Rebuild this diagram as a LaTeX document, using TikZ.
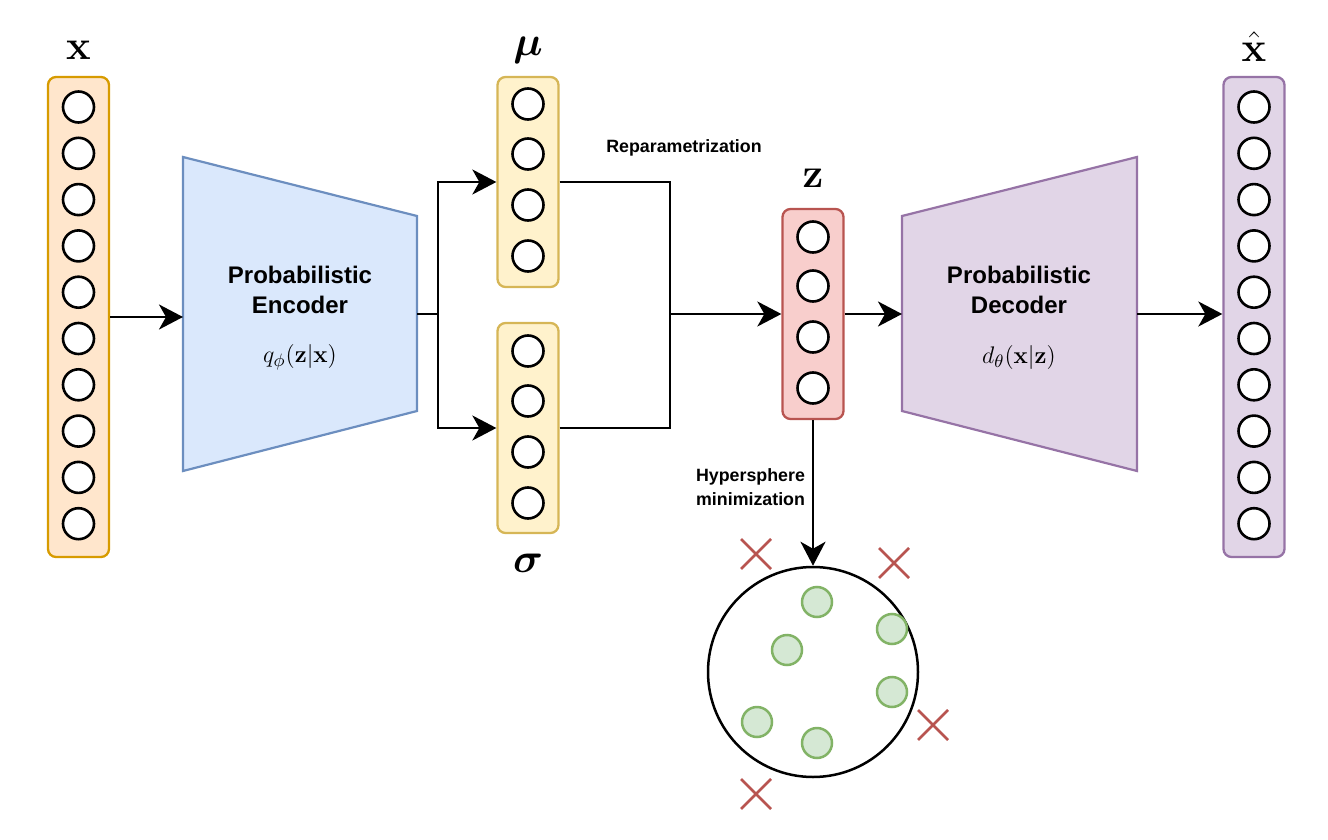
\documentclass[tikz,border=0pt]{standalone}
\usepackage{amsmath,bm}
\usepackage[no-math]{fontspec}
\newfontfamily\labelfont{Liberation Sans}
\usetikzlibrary{positioning,arrows.meta}

\definecolor{inFill}{HTML}{FFE6CC}
\definecolor{inDraw}{HTML}{D79B00}
\definecolor{gaussFill}{HTML}{FFF2CC}
\definecolor{gaussDraw}{HTML}{D6B656}
\definecolor{latFill}{HTML}{F8CECC}
\definecolor{latDraw}{HTML}{B85450}
\definecolor{encFill}{HTML}{DAE8FC}
\definecolor{encDraw}{HTML}{6C8EBF}
\definecolor{decFill}{HTML}{E1D5E7}
\definecolor{decDraw}{HTML}{9673A6}
\definecolor{okFill}{HTML}{D5E8D4}
\definecolor{okDraw}{HTML}{82B366}

\begin{document}
\begin{tikzpicture}[x=0.5pt,y=-0.5pt,
    layer/.style={rectangle, rounded corners=4pt, line width=1.15pt,
      minimum width=30.5pt, inner sep=0pt},
    unit/.style={circle, draw=black, fill=white, line width=1.3pt,
      minimum size=15.5pt, inner sep=0pt},
    flow/.style={-{Stealth[length=12pt,width=12.5pt,inset=3.5pt]}, line width=1.25pt},
    wire/.style={line width=1.25pt},
    vlabel/.style={inner sep=0pt, font=\fontsize{22}{26}\selectfont},
    boxtext/.style={align=center, font=\labelfont\bfseries\fontsize{12}{15}\selectfont},
    mathtext/.style={font=\fontsize{12.6}{15}\selectfont},
    note/.style={font=\labelfont\bfseries\fontsize{8.9}{12}\selectfont},
    inlier/.style={circle, draw=okDraw, fill=okFill, line width=1.25pt,
      minimum size=15pt, inner sep=0pt},
    outlier/.style={draw=latDraw, line width=1.25pt}]

  \useasboundingbox (0,0) rectangle (1328,840);

  % Input layer x
  \node[layer, draw=inDraw, fill=inFill, minimum height=240pt] (xin) at (78.5,317) {};
  \foreach \i in {0,...,9}
    \node[unit] (xin-\i) at (78.5,107+46.3*\i) {};
  \node[vlabel, above=8pt of xin] {$\mathbf{x}$};

  % Probabilistic encoder
  \draw[draw=encDraw, fill=encFill, line width=1.1pt]
    (183,157) -- (417,216) -- (417,411) -- (183,471) -- cycle;
  \coordinate (enc-in) at (183,317);
  \coordinate (enc-out) at (417,314);
  \node[boxtext] (enc) at (300,290) {Probabilistic\\Encoder};
  \node[mathtext] (enc-q) at (300,357) {$q_{\phi}(\mathbf{z}|\mathbf{x})$};

  % Mean and deviation layers
  \node[layer, draw=gaussDraw, fill=gaussFill, minimum height=105pt] (mu) at (528,182) {};
  \foreach \y [count=\i] in {104,154,205,256}
    \node[unit] (mu-\i) at (528,\y) {};
  \node[vlabel, above=6pt of mu] {$\bm{\mu}$};

  \node[layer, draw=gaussDraw, fill=gaussFill, minimum height=105pt] (sigma) at (528,428) {};
  \foreach \y [count=\i] in {351,401,452,503}
    \node[unit] (sigma-\i) at (528,\y) {};
  \node[vlabel, below=10pt of sigma] {$\bm{\sigma}$};

  % Latent layer z
  \node[layer, draw=latDraw, fill=latFill, minimum height=105pt] (z) at (813,314) {};
  \foreach \y [count=\i] in {237,286,337,388}
    \node[unit] (z-\i) at (813,\y) {};
  \node[vlabel, above=10pt of z] {$\mathbf{z}$};

  % Probabilistic decoder
  \draw[draw=decDraw, fill=decFill, line width=1.1pt]
    (902,216) -- (1137,157) -- (1137,471) -- (902,411) -- cycle;
  \coordinate (dec-in) at (902,314);
  \coordinate (dec-out) at (1137,314);
  \node[boxtext] (dec) at (1019,290) {Probabilistic\\Decoder};
  \node[mathtext] (dec-d) at (1019,357) {$d_{\theta}(\mathbf{x}|\mathbf{z})$};

  % Output layer x hat
  \node[layer, draw=decDraw, fill=decFill, minimum height=240pt] (xout) at (1254,317) {};
  \foreach \i in {0,...,9}
    \node[unit] (xout-\i) at (1254,107+46.3*\i) {};
  \node[vlabel, above=7pt of xout] {$\hat{\mathbf{x}}$};

  % Connections
  \coordinate (split) at (438,314);
  \coordinate (merge) at (670,314);
  \draw[flow] (xin.east |- enc-in) -- (enc-in);
  \draw[wire] (enc-out) -- (split);
  \draw[flow] (split) |- (mu);
  \draw[flow] (split) |- (sigma);
  \draw[wire] (mu) -| (merge);
  \draw[wire] (sigma) -| (merge);
  \draw[flow] (merge) -- (z);
  \draw[flow] (z) -- (dec-in);
  \draw[flow] (dec-out) -- (xout.west |- dec-out);
  \node[note] (repar) at (684,148) {Reparametrization};

  % Hypersphere
  \node[circle, draw=black, line width=1.25pt, minimum size=105pt, inner sep=0pt] (sphere) at (813,672) {};
  \draw[flow] (z) -- (sphere);
  \node[note, align=right, anchor=east] (hyper) at (812,487) {Hypersphere\\minimization};

  \foreach \cx/\cy [count=\i] in {817/602, 787/650, 892/629, 892/692, 757/722, 817/743}
    \node[inlier] (pt-\i) at (\cx,\cy) {};

  \foreach \cx/\cy in {756/554, 894/563, 933/725, 756/794}
    \draw[outlier] (\cx-15,\cy-15) -- (\cx+15,\cy+15)
                   (\cx-15,\cy+15) -- (\cx+15,\cy-15);

\end{tikzpicture}
\end{document}
